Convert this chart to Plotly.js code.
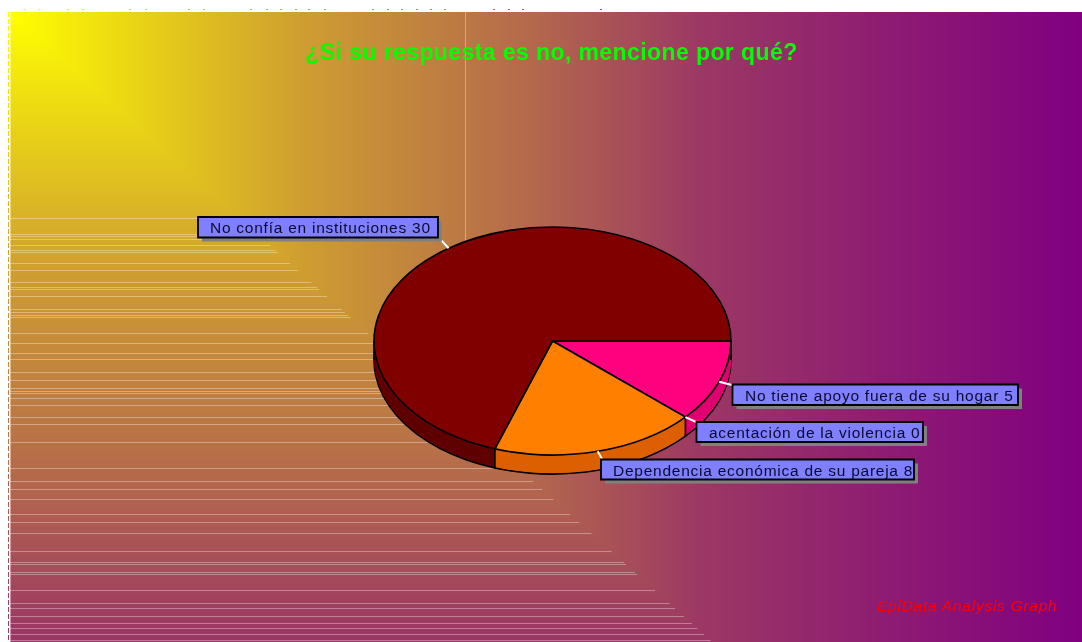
<!DOCTYPE html>
<html>
<head>
<meta charset="utf-8">
<script src="https://cdn.plot.ly/plotly-3.0.1.min.js"></script>
<style>
html,body{margin:0;padding:0;background:#fff;width:1082px;height:642px;overflow:hidden}
#bg{position:absolute;left:0;top:0}
#chart{position:absolute;left:0;top:0;width:1082px;height:642px}
.pielayer path{vector-effect:non-scaling-stroke}
.annotation-text{letter-spacing:.75px}
.gtitle{letter-spacing:.41px}
</style>
</head>
<body>
<canvas id="bg" width="1082" height="642"></canvas>
<div id="chart"></div>
<script>
// Data
const categories = ["No tiene apoyo fuera de su hogar","acentación de la violencia","Dependencia económica de su pareja","No confía en instituciones"];
const counts = [5,0,8,30];
const topColors = ["#ff007f","#ff0080","#ff8000","#800000"];
const sideColors = ["#e00070","#e00070","#dd6000","#600000"];
const labelTexts = ["No tiene apoyo fuera de su hogar 5","acentación de la violencia 0","Dependencia económica de su pareja 8","No confía en instituciones 30"];
const chartTitle = "¿Si su respuesta es no, mencione por qué?";
const footer = "EpiData Analysis Graph";

// Background decoration
const stripeY = [218,234,236,239,245,250,252,263,270,282,287,289,296,309,312,315,317,333,343,353,359,372,380,388,391,393,398,405,417,424,442,468,481,489,499,514,522,533,551,562,564,572,574,590,603,608,616,623,628,634,640];
const topDotsX = [24,38,67,82,129,145,188,203,250,266,280,295,308,324,372,387,401,416,430,444,493,508,522,600];
const gradStopsPos = [0,140,290,530,690,890,1072];
const gradStopsT = [0,.19,.38,.6,.78,.9,1];

// Layout
const W=1082,H=642,L=10,T=12;
const cx=552.5,cy=341,rx=178.5,ry=114,depth=19;
const labelBoxes=[[732.5,384.5,1018,405],[696.5,422,923,442],[601,459.5,914,479.5],[198,217,438,237.5]];
const leaderEnds=[[732,385],[696,422],[602,459],[441,240]];
const px=x=>x/W, py=y=>1-y/H;
const slope=1.116;
function tAt(d){
  for(let i=1;i<gradStopsPos.length;i++){
    if(d<=gradStopsPos[i]){const f=(d-gradStopsPos[i-1])/(gradStopsPos[i]-gradStopsPos[i-1]);return gradStopsT[i-1]+f*(gradStopsT[i]-gradStopsT[i-1]);}
  }
  return 1;
}
function colorAt(x,y){
  const t=tAt(Math.max(x-L,slope*(y-T)));
  return [255-127*t,255-255*t,128*t];
}
(function(){
  const c=document.getElementById('bg').getContext('2d');
  const img=c.createImageData(W,H);
  for(let y=0;y<H;y++)for(let x=0;x<W;x++){
    const i=(y*W+x)*4;let col=[255,255,255];
    if(x>=L&&y>=T)col=colorAt(x,y);
    img.data[i]=col[0];img.data[i+1]=col[1];img.data[i+2]=col[2];img.data[i+3]=255;
  }
  c.putImageData(img,0,0);
  for(let y=T;y<H;y+=7){const k=colorAt(L,y);c.fillStyle=`rgb(${k[0]|0},${k[1]|0},${k[2]|0})`;c.fillRect(8,y,1,5);}
  c.fillStyle='rgba(255,255,255,.45)';c.fillRect(L,T,1,H-T);c.fillRect(L,T-1,W-L,1);
  topDotsX.forEach(x=>{const k=colorAt(x,T);c.fillStyle=`rgb(${k[0]|0},${k[1]|0},${k[2]|0})`;c.fillRect(x,9,2,1);});
})();

const dom={x:[px(cx-rx),px(cx+rx)],y:[py(cy+rx),py(cy-rx)]};
function pieLayer(colors,lineW){
  return {type:'pie',labels:categories,values:counts,sort:false,direction:'clockwise',rotation:90,
    domain:dom,textinfo:'none',hoverinfo:'none',showlegend:false,
    marker:{colors:colors,line:{color:'#000',width:lineW}}};
}
const offsets=[];const traces=[];
for(let k=depth;k>=1;k--){offsets.push(k);traces.push(pieLayer(sideColors,k===depth?1.6:0));}
offsets.push(0);traces.push(pieLayer(topColors,1.6));

const total=counts.reduce((a,b)=>a+b,0);
const shapes=[];
const pt=a=>[cx+rx*Math.cos(a),cy+ry*Math.sin(a)];
const line=(x0,y0,x1,y1,color,width,layer)=>({type:'line',xref:'paper',yref:'paper',x0:px(x0),y0:py(y0),x1:px(x1),y1:py(y1),line:{color,width},layer:layer||'above'});
stripeY.forEach(y=>shapes.push(line(L,y+.5,L+slope*(y-T),y+.5,'rgba(255,255,255,0.34)',1,'below')));
shapes.push(line(465.5,T,465.5,240,'rgba(255,255,255,0.35)',1,'below'));
let cum=0;const mids=[];const edges=[0,Math.PI];
counts.forEach(v=>{const a0=cum/total*2*Math.PI;cum+=v;const a1=cum/total*2*Math.PI;mids.push((a0+a1)/2);if(a1<Math.PI&&v>0)edges.push(a1);});
edges.forEach(a=>{const p=pt(a);shapes.push(line(p[0],p[1],p[0],p[1]+depth,'#000',1.6));});
mids.forEach((a,i)=>{const p=pt(a);shapes.push(line(p[0],p[1],leaderEnds[i][0],leaderEnds[i][1],'#fff',2));});
const rect=(x0,y0,x1,y1,fill,lw)=>({type:'rect',xref:'paper',yref:'paper',x0:px(x0),y0:py(y0),x1:px(x1),y1:py(y1),fillcolor:fill,line:{width:lw,color:'#000'},layer:'above'});
labelBoxes.forEach(b=>{shapes.push(rect(b[0]+4,b[1]+4,b[2]+4,b[3]+4,'#808080',0));shapes.push(rect(b[0],b[1],b[2],b[3],'#8080ff',1.8));});

const annotations=labelTexts.map((t,i)=>{const b=labelBoxes[i];return {
  xref:'paper',yref:'paper',x:px(b[0]+12),y:py((b[1]+b[3])/2+.5),xanchor:'left',yanchor:'middle',showarrow:false,
  text:t,borderwidth:0,borderpad:0,
  font:{family:'"Liberation Sans",Arial,sans-serif',size:15.5,color:'#0a0a30'}};});
annotations.push({xref:'paper',yref:'paper',x:px(1057),y:py(605.5),xanchor:'right',yanchor:'middle',showarrow:false,
  text:'<i>'+footer+'</i>',borderwidth:0,borderpad:0,font:{family:'"Liberation Sans",Arial,sans-serif',size:15.5,color:'#ff0000'}});

const layout={width:W,height:H,margin:{l:0,r:0,t:0,b:0},paper_bgcolor:'rgba(0,0,0,0)',plot_bgcolor:'rgba(0,0,0,0)',
  showlegend:false,shapes,annotations,
  title:{text:'<b>'+chartTitle+'</b>',x:px(551.5),xanchor:'center',y:py(52),yanchor:'middle',xref:'paper',yref:'paper',
    font:{family:'"Liberation Sans",Arial,sans-serif',size:23,color:'#00ff00'}}};

function squash(){
  const s=ry/rx;
  document.querySelectorAll('.pielayer .trace').forEach((g,i)=>{
    g.setAttribute('transform',`translate(0,${cy+offsets[i]}) scale(1,${s}) translate(0,${-cy})`);
  });
}
Plotly.newPlot('chart',traces,layout,{staticPlot:true,displayModeBar:false}).then(squash);
</script>
</body>
</html>
